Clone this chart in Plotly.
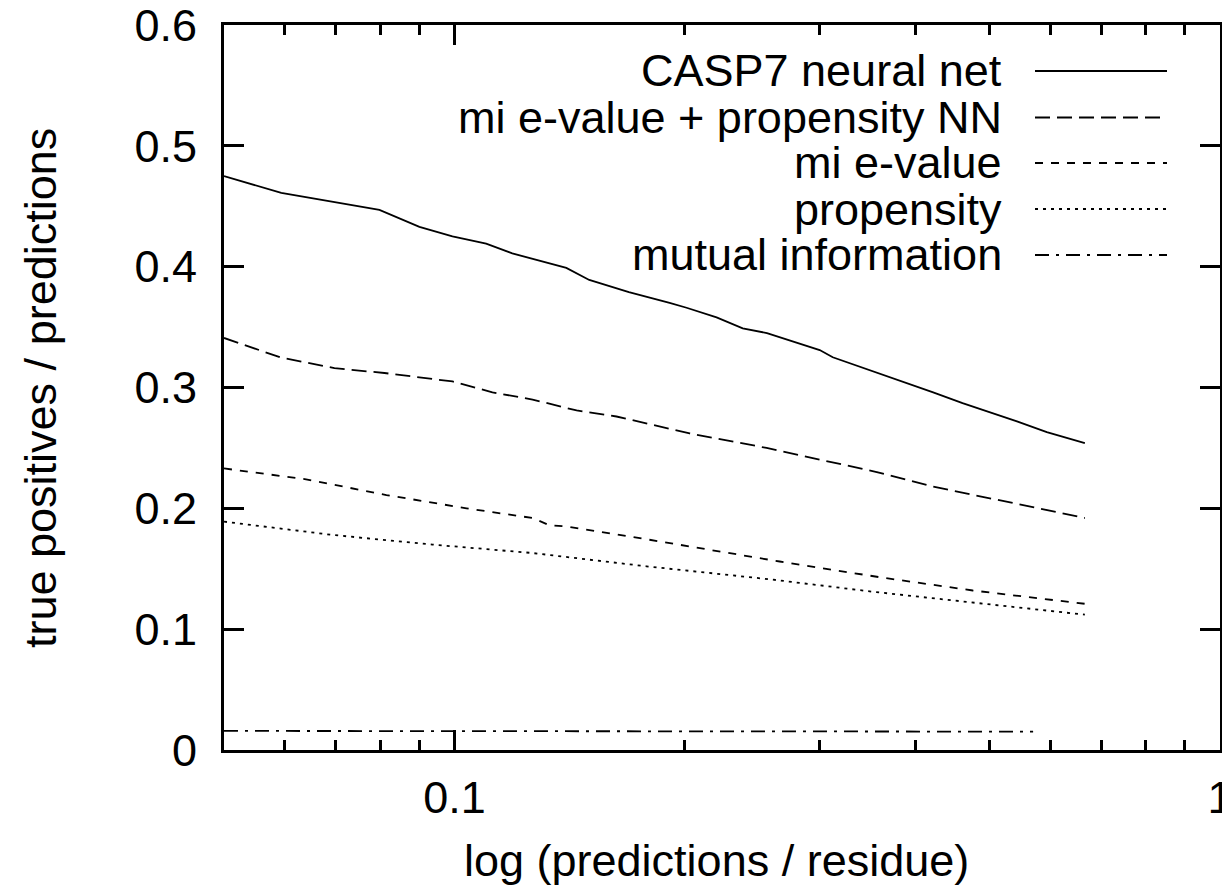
import math
import plotly.graph_objects as go

# ---- data ----
casp7_x = [0.05, 0.0594, 0.0798, 0.090, 0.0994, 0.110, 0.119, 0.129, 0.140, 0.150, 0.169,
           0.191, 0.201, 0.220, 0.238, 0.256, 0.300, 0.312, 0.370, 0.422, 0.461, 0.505,
           0.543, 0.594, 0.666]
casp7_y = [0.475, 0.461, 0.447, 0.433, 0.425, 0.419, 0.411, 0.405, 0.399, 0.389, 0.379,
           0.370, 0.366, 0.358, 0.349, 0.345, 0.331, 0.325, 0.309, 0.296, 0.287, 0.279,
           0.272, 0.263, 0.254]

nn_x = [0.05, 0.0592, 0.0697, 0.0810, 0.0994, 0.1121, 0.1265, 0.1444, 0.1628, 0.2029,
        0.2557, 0.3120, 0.3562, 0.4216, 0.4960, 0.5696, 0.666]
nn_y = [0.341, 0.325, 0.316, 0.312, 0.305, 0.296, 0.290, 0.281, 0.276, 0.262,
        0.250, 0.238, 0.230, 0.218, 0.209, 0.201, 0.192]

mie_x = [0.05, 0.0640, 0.0815, 0.1037, 0.1265, 0.1331, 0.1401, 0.1798, 0.2660, 0.3594,
         0.4754, 0.6561, 0.666]
mie_y = [0.233, 0.224, 0.211, 0.200, 0.192, 0.186, 0.185, 0.174, 0.156, 0.143,
         0.132, 0.122, 0.121]

prop_x = [0.05, 0.0693, 0.0936, 0.1265, 0.1782, 0.2605, 0.3519, 0.4754, 0.666]
prop_y = [0.189, 0.178, 0.170, 0.163, 0.152, 0.141, 0.131, 0.122, 0.112]

mi_x = [0.05, 0.1, 0.2, 0.35, 0.57]
mi_y = [0.0158, 0.0157, 0.0156, 0.0154, 0.0152]

series_names = ["CASP7 neural net", "mi e-value + propensity NN", "mi e-value",
                "propensity", "mutual information"]

y_tick_vals = [0, 0.1, 0.2, 0.3, 0.4, 0.5, 0.6]
y_tick_text = ["0", "0.1", "0.2", "0.3", "0.4", "0.5", "0.6"]
x_tick_vals = [0.1, 1]
x_tick_text = ["0.1", "1"]
x_minor_vals = [0.06, 0.07, 0.08, 0.09, 0.2, 0.3, 0.4, 0.5, 0.6, 0.7, 0.8, 0.9]

# ---- styling ----
FONT = "Liberation Sans, Arial, Helvetica, sans-serif"
FS = 45
dashes = ["solid", "15px,7px", "8px,8px", "3px,5px", "14px,7px,3px,7px"]
LW = 1.8

OFF = 8  # page body margin
W, H = 1230 - OFF, 892 - OFF
# plot frame in page pixels: left 224, right 1220, top 25, bottom 750
L, T = 224 - OFF, 25 - OFF
R = W - (1220 - OFF)
B = H - (750 - OFF)
pw = W - L - R
ph = H - T - B


def px_x(p):
    return (p - OFF - L) / pw


def px_y(p):
    return 1 - (p - OFF - T) / ph


fig = go.Figure()
data = [(casp7_x, casp7_y), (nn_x, nn_y), (mie_x, mie_y), (prop_x, prop_y), (mi_x, mi_y)]
for (xs, ys), name, d in zip(data, series_names, dashes):
    fig.add_trace(go.Scatter(x=xs, y=ys, mode="lines", name=name,
                             line=dict(color="black", width=LW, dash=d),
                             showlegend=False))

# legend (gnuplot style: text right-aligned, sample to the right)
row_y = [71, 117.5, 163, 209, 255]
for name, d, ry in zip(series_names, dashes, row_y):
    fig.add_annotation(x=px_x(1004), y=px_y(ry), xref="paper", yref="paper",
                       text=name, showarrow=False, xanchor="right", yanchor="middle",
                       font=dict(family=FONT, size=FS, color="black"))
    fig.add_shape(type="line", xref="paper", yref="paper",
                  x0=px_x(1035), x1=px_x(1167), y0=px_y(ry), y1=px_y(ry),
                  line=dict(color="black", width=LW, dash=d))

# axis titles
fig.add_annotation(x=px_x(716), y=px_y(860), xref="paper", yref="paper",
                   text="log (predictions / residue)", showarrow=False,
                   xanchor="center", yanchor="middle",
                   font=dict(family=FONT, size=FS, color="black"))
fig.add_annotation(x=px_x(40), y=px_y(388), xref="paper", yref="paper",
                   text="true positives / predictions", showarrow=False, textangle=-90,
                   xanchor="center", yanchor="middle",
                   font=dict(family=FONT, size=FS, color="black"))

fig.update_layout(
    width=W, height=H,
    margin=dict(l=L, r=R, t=T, b=B, autoexpand=False),
    paper_bgcolor="white", plot_bgcolor="white",
    font=dict(family=FONT, size=FS, color="black"),
    showlegend=False,
    xaxis=dict(type="log", range=[math.log10(0.05), 0],
               tickmode="array", tickvals=x_tick_vals, ticktext=x_tick_text,
               ticks="inside", ticklen=20, tickwidth=2.5, tickcolor="black",
               showline=True, linewidth=3, linecolor="black", mirror="allticks",
               showgrid=False, zeroline=False, ticklabelstandoff=6,
               ticklabeloverflow="allow",
               minor=dict(tickmode="array", tickvals=x_minor_vals, ticks="inside",
                          ticklen=10, tickwidth=2.5, tickcolor="black", showgrid=False),
               automargin=False),
    yaxis=dict(range=[0, 0.6], tickmode="array", tickvals=y_tick_vals, ticktext=y_tick_text,
               ticks="inside", ticklen=20, tickwidth=2.5, tickcolor="black",
               showline=True, linewidth=3, linecolor="black", mirror="allticks",
               showgrid=False, zeroline=False, ticklabelstandoff=15,
               ticklabeloverflow="allow",
               automargin=False),
)

fig.write_html("out.html")
